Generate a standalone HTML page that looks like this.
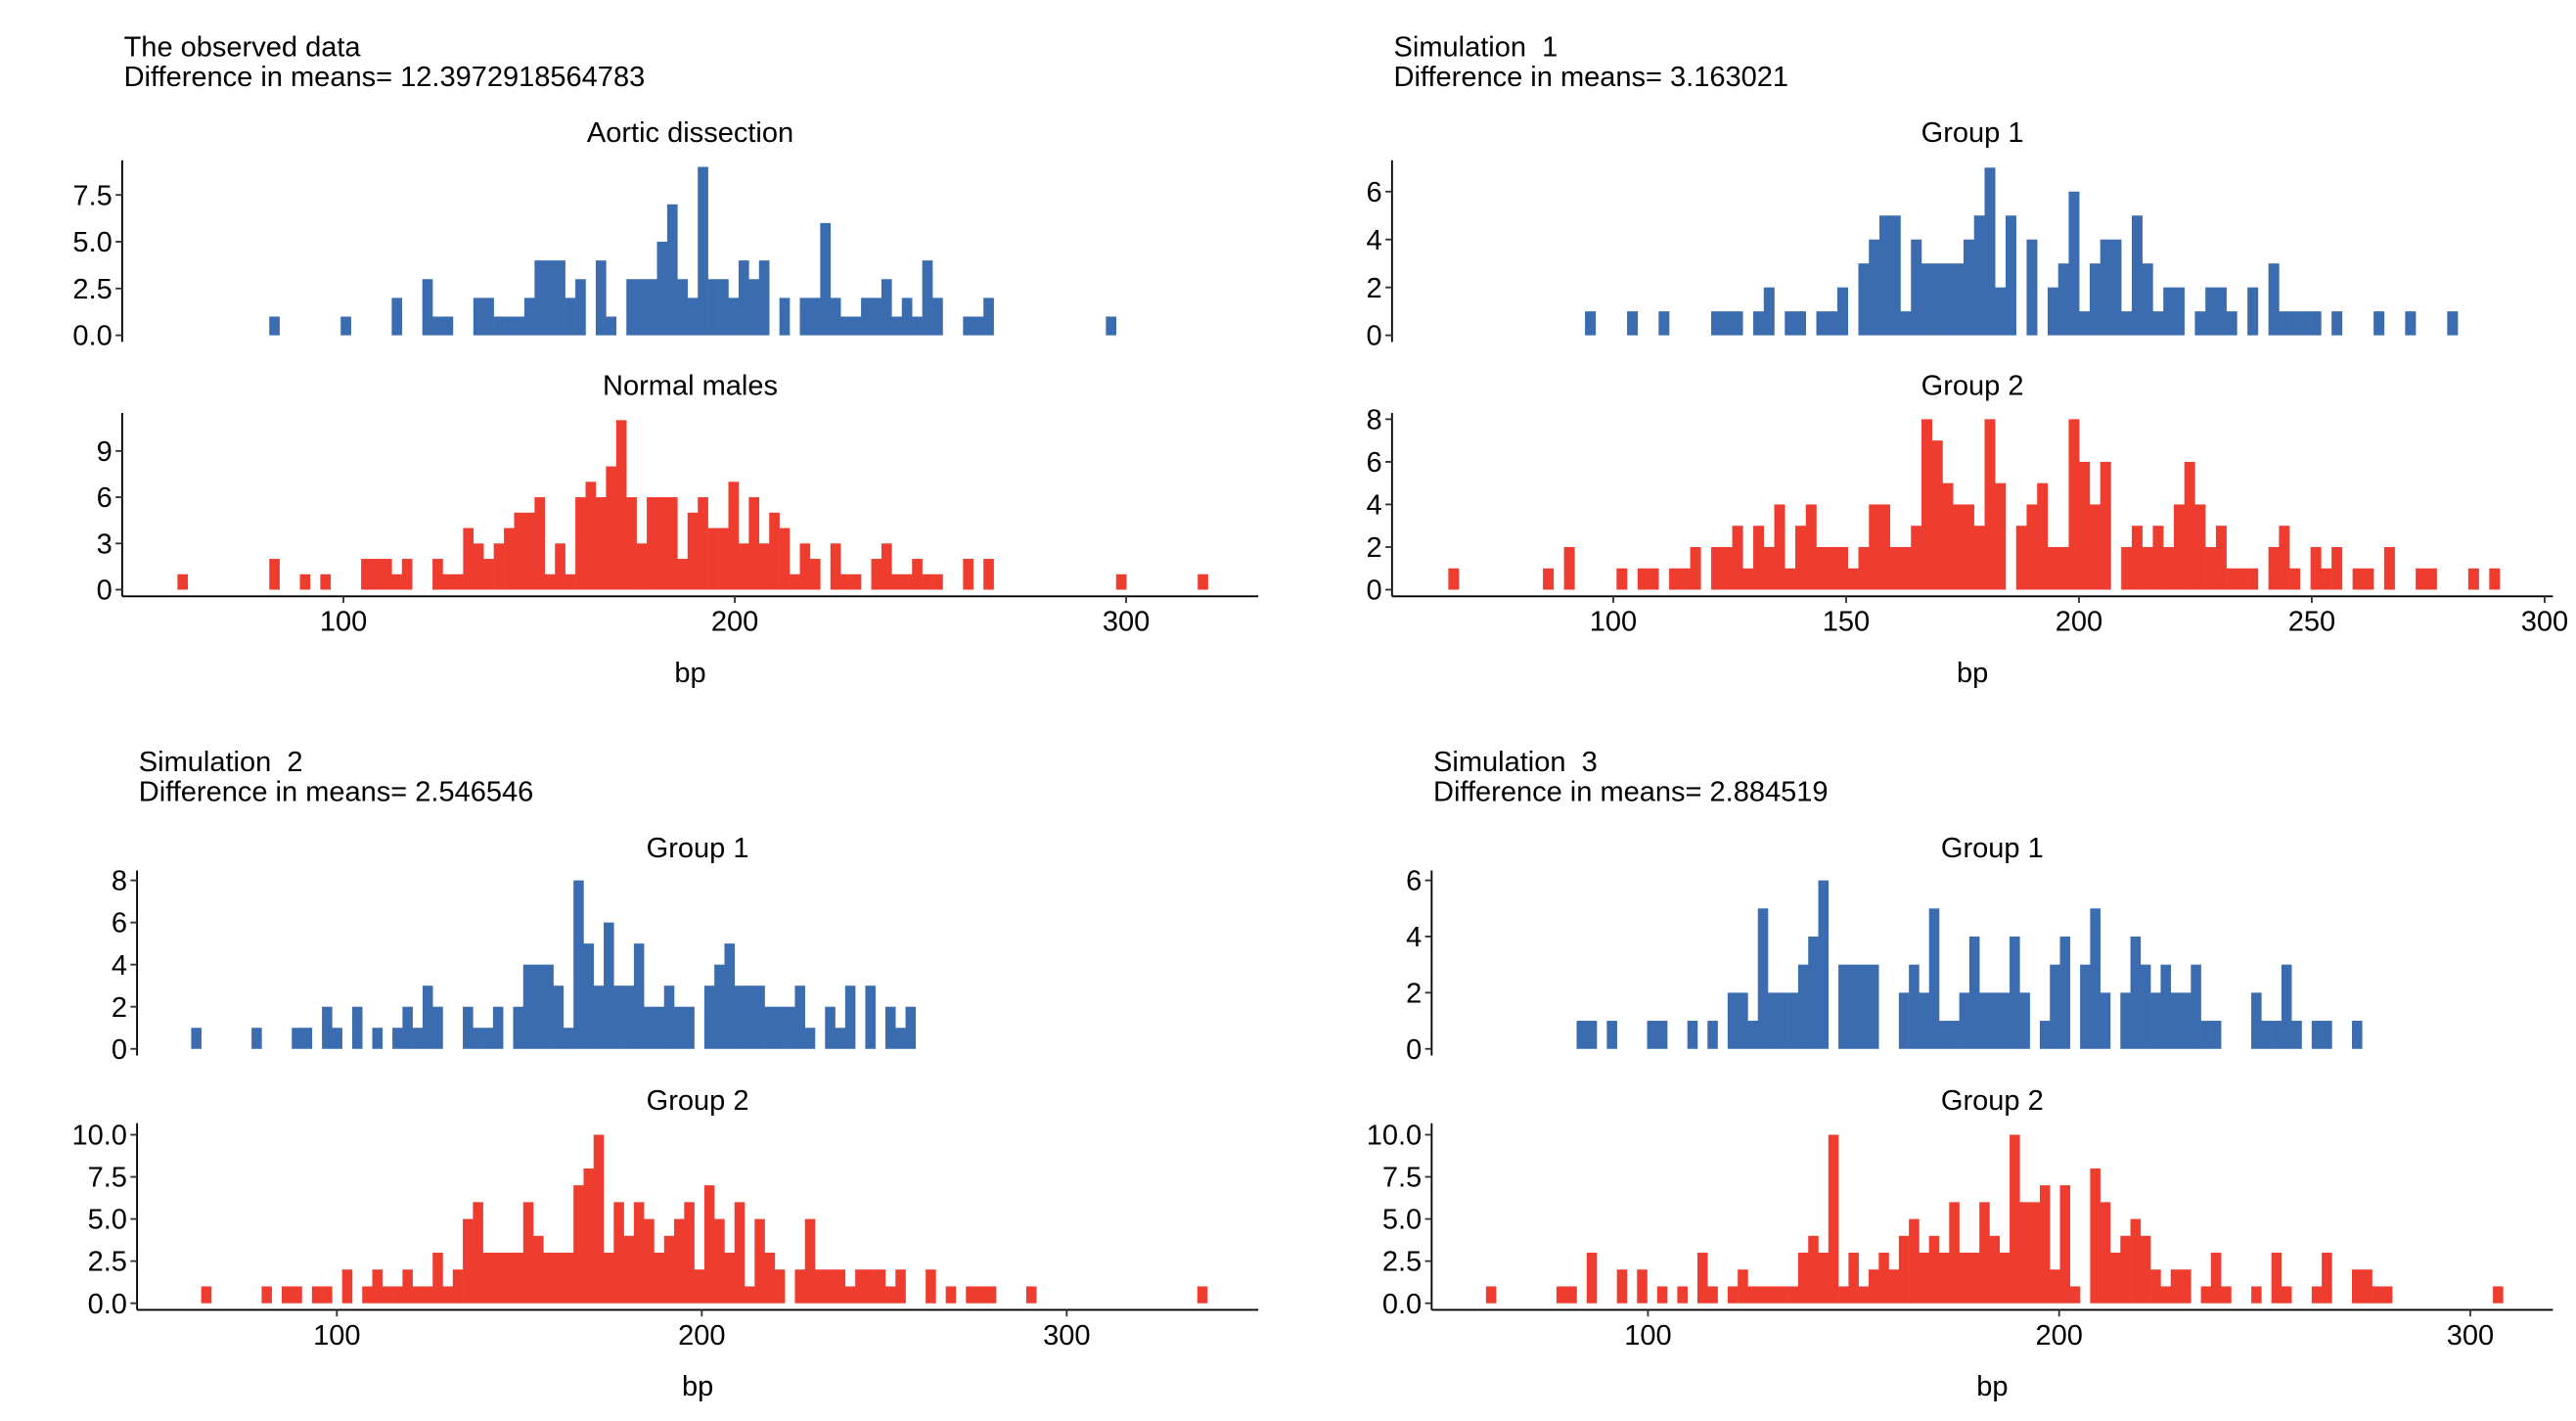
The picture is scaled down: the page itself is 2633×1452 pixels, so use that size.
<!DOCTYPE html>
<html><head><meta charset="utf-8">
<style>
html,body{margin:0;padding:0;background:#fff;}
svg{display:block;font-family:"Liberation Sans",Arial,sans-serif;}
text{white-space:pre;}
</style></head>
<body>
<svg id="chart" width="2633" height="1452" viewBox="0 0 1560 860.3" preserveAspectRatio="none" xmlns="http://www.w3.org/2000/svg" xml:space="preserve">
<rect x="0" y="0" width="1560" height="860.3" fill="#fff"/>
</svg>
<script>
// ---------- data ----------
const panelTitles = ["The observed data","Simulation  1","Simulation  2","Simulation  3"];
const panelDiffs = ["Difference in means= 12.3972918564783","Difference in means= 3.163021","Difference in means= 2.546546","Difference in means= 2.884519"];
const groupNames1 = ["Aortic dissection","Group 1","Group 1","Group 1"];
const groupNames2 = ["Normal males","Group 2","Group 2","Group 2"];
const binStarts = [57.58, 64.57, 60.08, 60.6];
const binWidths = [2.607, 2.258, 2.757, 2.449];
const xTicks = [[100,200,300],[100,150,200,250,300],[100,200,300],[100,200,300]];
const yTicksTop = [[0,2.5,5,7.5],[0,2,4,6],[0,2,4,6,8],[0,2,4,6]];
const yTickLabelsTop = [["0.0","2.5","5.0","7.5"],["0","2","4","6"],["0","2","4","6","8"],["0","2","4","6"]];
const yTicksBot = [[0,3,6,9],[0,2,4,6,8],[0,2.5,5,7.5,10],[0,2.5,5,7.5,10]];
const yTickLabelsBot = [["0","3","6","9"],["0","2","4","6","8"],["0.0","2.5","5.0","7.5","10.0"],["0.0","2.5","5.0","7.5","10.0"]];

const p1Blue = [0,0,0,0,0,0,0,0,0,1, 0,0,0,0,0,0,1,0,0,0, 0,2,0,0,3,1,1,0,0,2, 2,1,1,1,2,4,4,4,2,3, 0,4,1,0,3,3,3,5,7,3, 2,9,3,3,2,4,3,4,0,2, 0,2,2,6,2,1,1,2,2,3, 1,2,1,4,2,0,0,1,1,2, 0,0,0,0,0,0,0,0,0,0, 0,1];
const p1Red = [1,0,0,0,0,0,0,0,0,2, 0,0,1,0,1,0,0,0,2,2, 2,1,2,0,0,2,1,1,4,3, 2,3,4,5,5,6,1,3,1,6, 7,6,8,11,6,3,6,6,6,2, 5,6,4,4,7,3,6,3,5,4, 1,3,2,0,3,1,1,0,2,3, 1,1,2,1,1,0,0,2,0,2, 0,0,0,0,0,0,0,0,0,0, 0,0,1,0,0,0,0,0,0,0, 1];
const p2Blue = [0,0,0,0,0,0,0,0,0,0, 0,0,0,1,0,0,0,1,0,0, 1,0,0,0,0,1,1,1,0,1, 2,0,1,1,0,1,1,2,0,3, 4,5,5,1,4,3,3,3,3,4, 5,7,2,5,0,4,0,2,3,6, 1,3,4,4,1,5,3,1,2,2, 0,1,2,2,1,0,2,0,3,1, 1,1,1,0,1,0,0,0,1,0, 0,1,0,0,0,1];
const p2Red = [1,0,0,0,0,0,0,0,0,1, 0,2,0,0,0,0,1,0,1,1, 0,1,1,2,0,2,2,3,1,3, 2,4,1,3,4,2,2,2,1,2, 4,4,2,2,3,8,7,5,4,4, 3,8,5,0,3,4,5,2,2,8, 6,4,6,0,2,3,2,3,2,4, 6,4,2,3,1,1,1,0,2,3, 1,0,2,1,2,0,1,1,0,2, 0,0,1,1,0,0,0,1,0,1];
const p3Blue = [1,0,0,0,0,0,1,0,0,0, 1,1,0,2,1,0,2,0,1,0, 1,2,1,3,2,0,0,2,1,1, 2,0,2,4,4,4,3,1,8,5, 3,6,3,3,5,2,2,3,2,2, 0,3,4,5,3,3,3,2,2,2, 3,1,0,2,1,3,0,3,0,2, 1,2];
const p3Red = [0,1,0,0,0,0,0,1,0,1, 1,0,1,1,0,2,0,1,2,1, 1,2,1,1,3,1,2,5,6,3, 3,3,3,6,4,3,3,3,7,8, 10,3,6,4,6,5,3,4,5,6, 2,7,5,3,6,1,5,3,2,0, 2,5,2,2,2,1,2,2,2,1, 2,0,0,2,0,1,0,1,1,1, 0,0,0,1,0,0,0,0,0,0, 0,0,0,0,0,0,0,0,0,0, 1];
const p4Blue = [0,0,0,0,0,0,0,0,0,1, 1,0,1,0,0,0,1,1,0,0, 1,0,1,0,2,2,1,5,2,2, 2,3,4,6,0,3,3,3,3,0, 0,2,3,2,5,1,1,2,4,2, 2,2,4,2,0,1,3,4,0,3, 5,2,0,2,4,3,2,3,2,2, 3,1,1,0,0,0,2,1,1,3, 1,0,1,1,0,0,1];
const p4Red = [1,0,0,0,0,0,0,1,1,0, 3,0,0,2,0,2,0,1,0,1, 0,3,1,0,1,2,1,1,1,1, 1,3,4,3,10,1,3,1,2,3, 2,4,5,3,4,3,6,3,3,6, 4,3,10,6,6,7,2,7,1,0, 8,6,3,4,5,4,2,1,2,2, 0,1,3,1,0,0,1,0,3,1, 0,0,1,3,0,0,2,2,1,1, 0,0,0,0,0,0,0,0,0,0, 1];
const blueSeries = [p1Blue, p2Blue, p3Blue, p4Blue];
const redSeries = [p1Red, p2Red, p3Red, p4Red];

// ---------- layout (pixels, not data) ----------
const layout = [
  {ax:74, right:762, tx:75, ty:34, g1y:86, tZero:203, tTop:97, tPx:11.33, g2y:239, bZero:357, bTop:250, bPx:9.33, axisY:361, x0:208, k:2.37, bpY:413},
  {ax:843, right:1546, tx:844, ty:34, g1y:86, tZero:203, tTop:97, tPx:14.5, g2y:239, bZero:357, bTop:250, bPx:12.9, axisY:361, x0:977, k:2.82, bpY:413},
  {ax:83, right:762, tx:84, ty:467, g1y:519, tZero:635, tTop:527, tPx:12.75, g2y:672, bZero:789, bTop:680, bPx:10.2, axisY:793, x0:204, k:2.21, bpY:845},
  {ax:867, right:1546, tx:868, ty:467, g1y:519, tZero:635, tTop:527, tPx:17.0, g2y:672, bZero:789, bTop:680, bPx:10.2, axisY:793, x0:998, k:2.49, bpY:845}
];
const BLUE = "#3A6CAF", RED = "#EE3D2F";
const NS = "http://www.w3.org/2000/svg";
const svg = document.getElementById("chart");

function mk(tag, attrs, parent){
  const e = document.createElementNS(NS, tag);
  for (const k in attrs) e.setAttribute(k, attrs[k]);
  (parent||svg).appendChild(e);
  return e;
}
function txt(s, x, y, anchor, parent){
  const t = mk("text", {x:x, y:y, "text-anchor":anchor, "font-size":17.2, fill:"#000"}, parent);
  t.textContent = s;
  return t;
}

layout.forEach((L, p) => {
  const g = mk("g", {});
  
  
  const xs = u => L.x0 + (u - 100) * L.k;
  const cx = (L.ax + L.right) / 2;

  let t = txt(panelTitles[p], L.tx, L.ty, "start", g);
  
  
  t = txt(panelDiffs[p], L.tx, L.ty + 18, "start", g);
  
  
  t = txt(groupNames1[p], cx, L.g1y, "middle", g);
  
  
  t = txt(groupNames2[p], cx, L.g2y, "middle", g);
  
  

  const drawBars = (arr, zero, pxPer, color, nm) => {
    arr.forEach((c, i) => {
      if (!c) return;
      const xl = xs(binStarts[p] + i * binWidths[p]);
      const xr = xs(binStarts[p] + (i + 1) * binWidths[p]);
      const r = mk("rect", {x:xl, y:zero - c * pxPer, width:xr - xl + 0.15, height:c * pxPer, fill:color}, g);
      
      
    });
  };
  drawBars(blueSeries[p], L.tZero, L.tPx, BLUE, 'bar-group-1');
  drawBars(redSeries[p], L.bZero, L.bPx, RED, 'bar-group-2');

  const yAxis = (top, bottom, zero, pxPer, ticks, labels, nm) => {
    const a = mk("line", {x1:L.ax, x2:L.ax, y1:top, y2:bottom, stroke:"#000", "stroke-width":1.1}, g);
    
    
    ticks.forEach((v, i) => {
      const y = zero - v * pxPer;
      const tk = mk("line", {x1:L.ax - 4, x2:L.ax, y1:y, y2:y, stroke:"#333", "stroke-width":1.1}, g);
      
      
      const lb = txt(labels[i], L.ax - 6, y + 6, "end", g);
      
      
    });
  };
  yAxis(L.tTop, L.tZero + 4, L.tZero, L.tPx, yTicksTop[p], yTickLabelsTop[p], 'top-y-axis');
  yAxis(L.bTop, L.axisY, L.bZero, L.bPx, yTicksBot[p], yTickLabelsBot[p], 'bottom-y-axis');

  const xa = mk("line", {x1:L.ax, x2:L.right, y1:L.axisY, y2:L.axisY, stroke:"#000", "stroke-width":1.1}, g);
  
  
  xTicks[p].forEach(v => {
    const x = xs(v);
    const tk = mk("line", {x1:x, x2:x, y1:L.axisY, y2:L.axisY + 4, stroke:"#333", "stroke-width":1.1}, g);
    
    
    const lb = txt(String(v), x, L.axisY + 21, "middle", g);
    
    
  });
  const bp = txt("bp", cx, L.bpY, "middle", g);
  
  
});
</script>
</body></html>
